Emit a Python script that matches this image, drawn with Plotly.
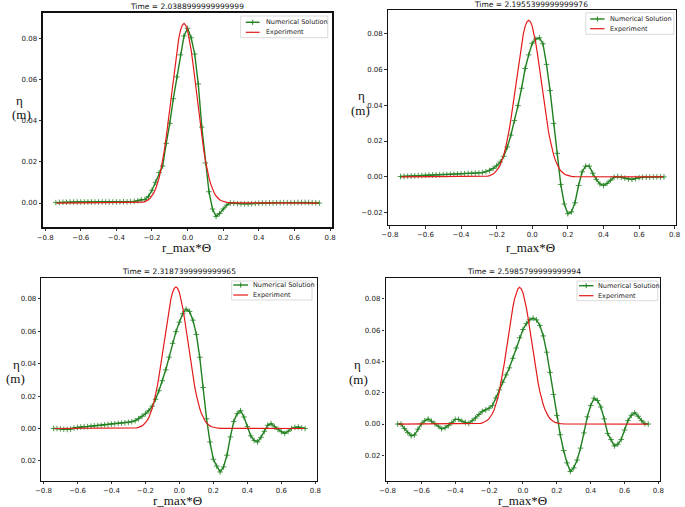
import plotly.graph_objects as go

W, H = 685, 507

# ---------------- data ----------------
x_num = [round(-0.74 + 0.02 * i, 2) for i in range(75)]

num_t1 = [0.0002, 0.0003, 0.0004, 0.0004, 0.0005, 0.0005, 0.0005, 0.0005, 0.0005, 0.0005,
          0.0005, 0.0005, 0.0005, 0.0005, 0.0005, 0.0005, 0.0005, 0.0005, 0.0005, 0.0006,
          0.0006, 0.0007, 0.0008, 0.0011, 0.0016, 0.0017, 0.0032, 0.0062, 0.0101, 0.0148,
          0.0180, 0.0290, 0.0387, 0.0507, 0.0613, 0.0720, 0.0812, 0.0849, 0.0803, 0.0724,
          0.0579, 0.0369, 0.0195, 0.0055, -0.0029, -0.0065, -0.0051, -0.0029, -0.0010, 0.0000,
          -0.0001, -0.0003, -0.0004, -0.0004, -0.0004, -0.0003, -0.0002, -0.0001, 0.0000, 0.0000,
          0.0001, 0.0001, 0.0001, 0.0002, 0.0002, 0.0002, 0.0002, 0.0002, 0.0003, 0.0003,
          0.0003, 0.0003, 0.0002, 0.0001, 0.0000]

num_t2 = [0.0002, 0.0003, 0.0004, 0.0005, 0.0006, 0.0007, 0.0008, 0.0009, 0.0010, 0.0010,
          0.0011, 0.0012, 0.0013, 0.0013, 0.0014, 0.0015, 0.0016, 0.0017, 0.0018, 0.0019,
          0.0020, 0.0021, 0.0022, 0.0024, 0.0029, 0.0036, 0.0047, 0.0062, 0.0083, 0.0115,
          0.0167, 0.0233, 0.0314, 0.0397, 0.0494, 0.0604, 0.0680, 0.0745, 0.0768, 0.0775,
          0.0742, 0.0627, 0.0481, 0.0298, 0.0131, -0.0042, -0.0151, -0.0205, -0.0195, -0.0144,
          -0.0048, 0.0028, 0.0060, 0.0060, 0.0020, -0.0014, -0.0039, -0.0048, -0.0036, -0.0018,
          -0.0002, 0.0002, -0.0002, -0.0007, -0.0012, -0.0014, -0.0009, -0.0004, -0.0002, -0.0001,
          -0.0001, 0.0000, 0.0000, 0.0000, 0.0000]

num_t3 = [0.0000, 0.0000, -0.0002, -0.0005, -0.0006, -0.0004, 0.0003, 0.0007, 0.0009, 0.0011,
          0.0012, 0.0014, 0.0016, 0.0018, 0.0020, 0.0022, 0.0024, 0.0027, 0.0029, 0.0031,
          0.0033, 0.0035, 0.0038, 0.0042, 0.0048, 0.0060, 0.0075, 0.0091, 0.0110, 0.0138,
          0.0180, 0.0233, 0.0295, 0.0362, 0.0440, 0.0525, 0.0597, 0.0656, 0.0708, 0.0736,
          0.0722, 0.0668, 0.0580, 0.0439, 0.0253, 0.0060, -0.0083, -0.0190, -0.0232, -0.0268,
          -0.0237, -0.0165, -0.0052, 0.0043, 0.0091, 0.0110, 0.0071, 0.0012, -0.0045, -0.0073,
          -0.0083, -0.0055, -0.0017, 0.0020, 0.0030, 0.0010, -0.0005, -0.0020, -0.0030, -0.0017,
          0.0000, 0.0007, 0.0009, 0.0004, 0.0000]

num_t4 = [0.0000, 0.0000, -0.0029, -0.0055, -0.0075, -0.0070, -0.0033, 0.0001, 0.0021, 0.0032,
          0.0018, 0.0003, -0.0013, -0.0030, -0.0024, -0.0010, 0.0009, 0.0030, 0.0030, 0.0018,
          0.0010, 0.0004, 0.0021, 0.0038, 0.0061, 0.0081, 0.0090, 0.0101, 0.0119, 0.0167,
          0.0218, 0.0267, 0.0314, 0.0359, 0.0420, 0.0486, 0.0551, 0.0604, 0.0642, 0.0666,
          0.0676, 0.0665, 0.0630, 0.0563, 0.0459, 0.0330, 0.0189, 0.0055, -0.0068, -0.0169,
          -0.0248, -0.0303, -0.0280, -0.0230, -0.0154, -0.0057, 0.0046, 0.0118, 0.0165, 0.0150,
          0.0109, 0.0033, -0.0060, -0.0099, -0.0140, -0.0129, -0.0099, -0.0038, 0.0022, 0.0056,
          0.0072, 0.0050, 0.0022, 0.0002, 0.0000]

exp_x = [-0.735] + [round(-0.28 + 0.01 * i, 2) for i in range(53)] + [0.735]
exp_y = [0.0,
         0.0001, 0.0002, 0.0003, 0.0004, 0.0007, 0.0011, 0.0016, 0.0024, 0.0034, 0.0049,
         0.0067, 0.0092, 0.0123, 0.0161, 0.0207, 0.0260, 0.0321, 0.0388, 0.0460, 0.0535,
         0.0609, 0.0680, 0.0744, 0.0798, 0.0839, 0.0864, 0.0873,
         0.0864, 0.0839, 0.0798, 0.0744, 0.0680, 0.0609, 0.0535, 0.0460, 0.0388, 0.0321,
         0.0260, 0.0207, 0.0161, 0.0123, 0.0092, 0.0067, 0.0049, 0.0034, 0.0024, 0.0016,
         0.0011, 0.0007, 0.0004, 0.0003, 0.0002, 0.0001,
         0.0]

titles = ["Time = 2.0388999999999999", "Time = 2.1955399999999976",
          "Time = 2.3187399999999965", "Time = 2.5985799999999994"]
series = [num_t1, num_t2, num_t3, num_t4]

x_tickvals = [-0.8, -0.6, -0.4, -0.2, 0.0, 0.2, 0.4, 0.6, 0.8]
x_ticktext = ["\u22120.8", "\u22120.6", "\u22120.4", "\u22120.2", "0.0", "0.2", "0.4", "0.6", "0.8"]
y_tickvals = [
    [0.0, 0.02, 0.04, 0.06, 0.08],
    [-0.02, 0.0, 0.02, 0.04, 0.06, 0.08],
    [-0.02, 0.0, 0.02, 0.04, 0.06, 0.08],
    [-0.02, 0.0, 0.02, 0.04, 0.06, 0.08],
]
y_ticktext = [
    ["0.00", "0.02", "0.04", "0.06", "0.08"],
    ["\u22120.02", "0.00", "0.02", "0.04", "0.06", "0.08"],
    ["0.02", "0.00", "0.02", "0.04", "0.06", "0.08"],
    ["0.02", "0.00", "0.02", "0.04", "0.06", "0.08"],
]

# ---------------- layout geometry (pixels) ----------------
boxes = [  # left, right, top, bottom
    (36.7, 330.0, 13.3, 226.7),
    (387.0, 680.3, 10.0, 225.0),
    (35.0, 315.0, 277.7, 480.7),
    (384.7, 663.7, 277.7, 480.7),
]
y_ranges = [[-0.0115, 0.0922], [-0.0268, 0.0930], [-0.0322, 0.0930], [-0.0362, 0.0935]]
x_range = [-0.8115, 0.8095]
frame_w = [2.0, 1.2, 1.4, 1.4]
title_pos = [(183, 7), (533, 4.5), (175, 271), (525, 271)]
eta_pos = [(13, 100, 15, 114), (360, 96, 359, 110), (10, 364, 9, 378), (356, 364, 357, 379)]
xlabel_pos = [(182, 247), (532, 247), (173, 500), (524, 500)]
legend_boxes = [  # left, top, right, bottom, row1 y, row2 y, sample x0, x1, text x
    (237.5, 16.0, 326.0, 37.7, 22.3, 32.3, 242.7, 256.7, 260.7),
    (588.3, 12.7, 677.7, 34.3, 19.0, 28.7, 592.7, 607.3, 610.7),
    (228.3, 281.0, 310.0, 300.0, 285.0, 295.0, 230.0, 245.0, 248.3),
    (579.3, 281.0, 661.3, 300.7, 285.7, 295.7, 581.3, 596.0, 598.7),
]

GREEN = "#1f801f"
RED = "#e41a1a"


def px(x):
    return x / W


def py(y):
    return 1 - y / H


fig = go.Figure()
layout = dict(width=W, height=H, autosize=False, margin=dict(l=0, r=0, t=0, b=0),
              paper_bgcolor="white", plot_bgcolor="white", showlegend=False)
annotations = []
shapes = []

for i in range(4):
    sfx = "" if i == 0 else str(i + 1)
    xa, ya = "x" + sfx, "y" + sfx
    fig.add_trace(go.Scatter(
        x=x_num, y=series[i], xaxis=xa, yaxis=ya, mode="lines+markers",
        line=dict(color=GREEN, width=1.4),
        marker=dict(symbol="cross-thin", size=4, line=dict(color=GREEN, width=0.8)),
        name="Numerical Solution"))
    fig.add_trace(go.Scatter(
        x=exp_x, y=exp_y, xaxis=xa, yaxis=ya, mode="lines",
        line=dict(color=RED, width=1.2), name="Experiment"))

    l, r, t, b = boxes[i]
    common = dict(showline=True, mirror=True, linecolor="#111", linewidth=frame_w[i],
                  ticks="outside", ticklen=2.5, tickwidth=0.8, tickcolor="#333",
                  showgrid=False, zeroline=False,
                  tickfont=dict(family="DejaVu Sans", size=7, color="#222"))
    layout["xaxis" + sfx] = dict(domain=[px(l), px(r)], range=x_range, anchor=ya,
                                 tickvals=x_tickvals, ticktext=x_ticktext, **common)
    layout["yaxis" + sfx] = dict(domain=[py(b), py(t)], range=y_ranges[i], anchor=xa,
                                 tickvals=y_tickvals[i], ticktext=y_ticktext[i], **common)

    tx, ty = title_pos[i]
    annotations.append(dict(text=titles[i], x=px(tx), y=py(ty), xref="paper", yref="paper",
                            showarrow=False, xanchor="center", yanchor="middle",
                            font=dict(family="DejaVu Sans", size=7.5, color="#111")))
    ex, ey, mx, my = eta_pos[i]
    annotations.append(dict(text="η", x=px(ex), y=py(ey), xref="paper", yref="paper",
                            showarrow=False, xanchor="center", yanchor="middle",
                            font=dict(family="Liberation Serif", size=13, color="#111")))
    annotations.append(dict(text="(m)", x=px(mx), y=py(my), xref="paper", yref="paper",
                            showarrow=False, xanchor="center", yanchor="middle",
                            font=dict(family="Liberation Serif", size=13, color="#111")))
    lx, ly = xlabel_pos[i]
    annotations.append(dict(text="r_max*Θ", x=px(lx), y=py(ly), xref="paper", yref="paper",
                            showarrow=False, xanchor="center", yanchor="middle",
                            font=dict(family="Liberation Serif", size=13, color="#111")))

    # legend box
    bl, bt, br, bb, r1, r2, s0, s1, txx = legend_boxes[i]
    shapes.append(dict(type="rect", xref="paper", yref="paper", x0=px(bl), x1=px(br),
                       y0=py(bb), y1=py(bt), line=dict(color="#d0d0d0", width=0.8),
                       fillcolor="rgba(255,255,255,0.85)", layer="above"))
    shapes.append(dict(type="line", xref="paper", yref="paper", x0=px(s0), x1=px(s1),
                       y0=py(r1), y1=py(r1), line=dict(color=GREEN, width=1.4), layer="above"))
    mid = (s0 + s1) / 2
    shapes.append(dict(type="line", xref="paper", yref="paper", x0=px(mid), x1=px(mid),
                       y0=py(r1 - 2.5), y1=py(r1 + 2.5), line=dict(color=GREEN, width=1),
                       layer="above"))
    shapes.append(dict(type="line", xref="paper", yref="paper", x0=px(s0), x1=px(s1),
                       y0=py(r2), y1=py(r2), line=dict(color=RED, width=1.2), layer="above"))
    annotations.append(dict(text="Numerical Solution", x=px(txx), y=py(r1), xref="paper",
                            yref="paper", showarrow=False, xanchor="left", yanchor="middle",
                            font=dict(family="DejaVu Sans", size=6.5, color="#222")))
    annotations.append(dict(text="Experiment", x=px(txx), y=py(r2), xref="paper",
                            yref="paper", showarrow=False, xanchor="left", yanchor="middle",
                            font=dict(family="DejaVu Sans", size=6.5, color="#222")))

layout["annotations"] = annotations
layout["shapes"] = shapes
fig.update_layout(**layout)
fig.write_html("out.html", config={"displayModeBar": False},
               post_script="document.body.style.margin='0';document.body.style.padding='0';")
